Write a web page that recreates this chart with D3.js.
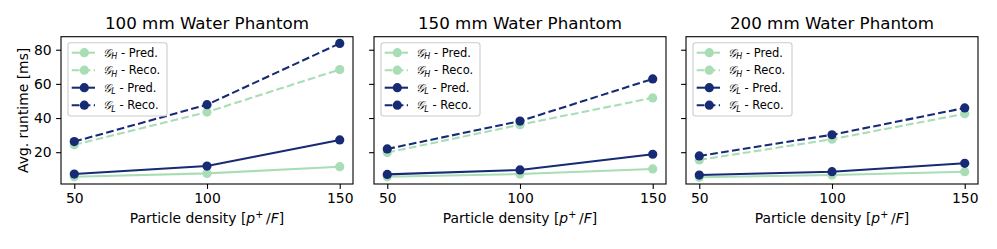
<!DOCTYPE html>
<html>
<head>
<meta charset="utf-8">
<script src="https://cdn.jsdelivr.net/npm/d3@7/dist/d3.min.js"></script>
<style>
body { margin: 0; background: #fff; }
text { font-family: "DejaVu Sans", sans-serif; fill: #000; }
.axis path, .axis line { stroke: #000; stroke-width: 1.1px; }
</style>
</head>
<body>
<div id="chart"></div>
<script>
// data
var densities = [50, 100, 150];
var phantoms = ["100 mm Water Phantom", "150 mm Water Phantom", "200 mm Water Phantom"];

var gh_pred = [[5.6, 7.6, 11.5], [5.6, 7.2, 10.2], [5.3, 6.6, 8.6]];
var gh_reco = [[24.3, 43.5, 68.4], [19.8, 36.1, 51.8], [15.5, 27.6, 42.5]];
var gl_pred = [[7.2, 11.9, 27.2], [7.0, 9.6, 18.8], [6.6, 8.6, 13.5]];
var gl_reco = [[26.2, 47.8, 83.7], [21.9, 38.2, 62.9], [17.8, 30.2, 45.9]];
var yTicks = [20, 40, 60, 80];

var green = "#a8ddb5", navy = "#172a74";
var series = [
    {sub: "H", kind: "Pred.", color: green, dashed: false, values: gh_pred},
    {sub: "H", kind: "Reco.", color: green, dashed: true, values: gh_reco},
    {sub: "L", kind: "Pred.", color: navy, dashed: false, values: gl_pred},
    {sub: "L", kind: "Reco.", color: navy, dashed: true, values: gl_reco}
];

var W = 997, H = 249;
var lefts = [61, 374, 686],
    pw = 292,
    plotTop = 36.7,
    ph = 147.3;

var svg = d3.select("#chart").append("svg")
    .attr("width", W)
    .attr("height", H);

// shared scales with matplotlib-like 5% margins
var allVals = [].concat(gh_pred.flat(), gh_reco.flat(), gl_pred.flat(), gl_reco.flat());
var ext = d3.extent(allVals), pad = (ext[1] - ext[0]) * 0.05;
var xExt = d3.extent(densities), xPad = (xExt[1] - xExt[0]) * 0.05;

var x = d3.scaleLinear().domain([xExt[0] - xPad, xExt[1] + xPad]).range([0, pw]);
var y = d3.scaleLinear().domain([ext[0] - pad, ext[1] + pad]).range([ph, 0]);

var line = d3.line()
    .x(function (d, i) { return x(densities[i]); })
    .y(function (d) { return y(d); });

phantoms.forEach(function (title, p) {
    var g = svg.append("g")
        .attr("transform", "translate(" + lefts[p] + "," + plotTop + ")");

    // x axis
    g.append("g")
        .attr("class", "axis")
        .attr("transform", "translate(0," + ph + ")")
        .call(d3.axisBottom(x).tickValues(densities).tickSize(4.9).tickPadding(4.5))
        .call(function (a) { a.select(".domain").remove(); })
        .selectAll("text").style("font-size", "13.9px").style("font-family", "DejaVu Sans");

    // y axis
    var ya = g.append("g")
        .attr("class", "axis")
        .call(d3.axisLeft(y).tickValues(yTicks).tickSize(4.9).tickPadding(4.5))
        .call(function (a) { a.select(".domain").remove(); });
    ya.selectAll("text").style("font-size", "13.9px").style("font-family", "DejaVu Sans");
    if (p > 0) ya.selectAll("text").remove();

    // lines and markers
    series.forEach(function (s) {
        g.append("path")
            .datum(s.values[p])
            .attr("d", line)
            .attr("fill", "none")
            .attr("stroke", s.color)
            .attr("stroke-width", 2.08)
            .attr("stroke-dasharray", s.dashed ? "7.7,3.33" : null);
        g.selectAll(null)
            .data(s.values[p])
            .enter().append("circle")
            .attr("cx", function (d, i) { return x(densities[i]); })
            .attr("cy", function (d) { return y(d); })
            .attr("r", 4.6)
            .attr("fill", s.color);
    });

    // frame
    g.append("rect")
        .attr("width", pw)
        .attr("height", ph)
        .attr("fill", "none")
        .attr("stroke", "#000")
        .attr("stroke-width", 1.1);

    // title
    g.append("text")
        .attr("x", pw / 2)
        .attr("y", -7.5)
        .attr("text-anchor", "middle")
        .style("font-size", "16.7px")
        .text(title);

    // x label
    var xl = g.append("text")
        .attr("x", pw / 2)
        .attr("y", 223 - plotTop)
        .attr("text-anchor", "middle")
        .style("font-size", "13.9px");
    xl.append("tspan").text("Particle density [");
    xl.append("tspan").style("font-style", "italic").text("p");
    xl.append("tspan").attr("dy", -5).style("font-size", "9.7px").text("+");
    xl.append("tspan").attr("dy", 5).text("\u2009/");
    xl.append("tspan").style("font-style", "italic").text("F");
    xl.append("tspan").text("]");

    // legend
    var lg = g.append("g").attr("transform", "translate(7,6)");
    lg.append("rect")
        .attr("width", 99)
        .attr("height", 73.3)
        .attr("rx", 2.5)
        .attr("fill", "rgba(255,255,255,0.8)")
        .attr("stroke", "#cccccc")
        .attr("stroke-width", 1.1);
    var row = lg.selectAll(".leg")
        .data(series)
        .enter().append("g")
        .attr("class", "leg")
        .attr("transform", function (d, i) { return "translate(0," + (10 + i * 17.5) + ")"; });
    row.append("line")
        .attr("x1", 3.7).attr("x2", 27)
        .attr("stroke", function (d) { return d.color; })
        .attr("stroke-width", 2.08)
        .attr("stroke-dasharray", function (d) { return d.dashed ? "7.7,3.33" : null; });
    row.append("circle")
        .attr("cx", 16.3)
        .attr("r", 4.6)
        .attr("fill", function (d) { return d.color; });
    var lt = row.append("text")
        .attr("x", 35.3)
        .attr("y", 4)
        .style("font-size", "11.5px");
    lt.append("tspan")
        .style("font-style", "italic")
        .text("\ud835\udca2");
    lt.append("tspan")
        .attr("dy", 2.5)
        .style("font-size", "8px")
        .style("font-style", "italic")
        .text(function (d) { return d.sub; });
    lt.append("tspan")
        .attr("dy", -2.5)
        .text(function (d) { return " - " + d.kind; });
});

// y label
svg.append("text")
    .attr("transform", "translate(28," + (plotTop + ph / 2) + ") rotate(-90)")
    .attr("text-anchor", "middle")
    .style("font-size", "13.9px")
    .text("Avg. runtime [ms]");
</script>
</body>
</html>
